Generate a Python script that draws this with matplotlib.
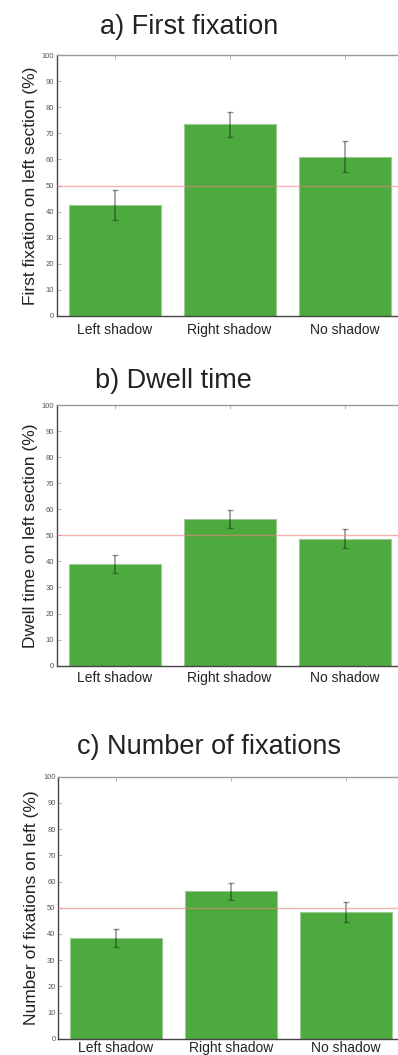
"""
Eye-tracking results: three bar panels (first fixation, dwell time, number of fixations)
"""
import numpy as np
import matplotlib
matplotlib.use("Agg")
import matplotlib.pyplot as plt
from matplotlib.transforms import ScaledTranslation

plt.rcParams["font.family"] = ["Liberation Sans", "DejaVu Sans"]

# ── data ──────────────────────────────────────────────────────────────────────
conditions = ["Left shadow", "Right shadow", "No shadow"]

first_fix = [42.5, 73.5, 61.0]
first_fix_err = [5.8, 4.8, 6.0]

dwell = [39.0, 56.3, 48.7]
dwell_err = [3.5, 3.3, 3.7]

n_fix = [38.5, 56.2, 48.4]
n_fix_err = [3.5, 3.2, 3.7]

chance = 50
yticks = list(range(0, 101, 10))

panels = [
    ("a) First fixation", "First fixation on left section (%)", first_fix, first_fix_err),
    ("b) Dwell time", "Dwell time on left section (%)", dwell, dwell_err),
    ("c) Number of fixations", "Number of fixations on left (%)", n_fix, n_fix_err),
]

W, H = 398, 1055
DPI = 100
fig = plt.figure(figsize=(W / DPI, H / DPI), dpi=DPI)

# left, top, bottom of each axes in px; title anchor (x, y-center) in px
boxes = [(57, 55, 316), (57, 405, 665.7), (58.3, 776.7, 1038.7)]
title_pos = [(100, 27), (95, 381), (77, 747)]
label_shift = [7, 0, 9]   # x tick labels sit slightly right of bar centres in a) and c)
label_pad = [5, 4, 1.5]

BAR_COLOR = "#4DAA3F"

for (title, ylabel, vals, errs), (left, top, bottom), (tx, ty), dx, pad in zip(
        panels, boxes, title_pos, label_shift, label_pad):
    ax = fig.add_axes([left / W, 1 - bottom / H, 345 / W, (bottom - top) / H])
    x = np.arange(len(conditions))

    ax.bar(x, vals, width=0.8, color=BAR_COLOR, edgecolor="#9cc994", linewidth=0.8, zorder=2)
    ax.errorbar(x, vals, yerr=errs, fmt="none", ecolor="#1a1a1a", alpha=0.45,
                elinewidth=1.2, capsize=2.5, capthick=1.0, zorder=3)
    ax.axhline(chance, color="#f08080", alpha=0.6, linewidth=1.0, zorder=4)

    ax.set_xlim(-0.5, 2.5)
    ax.set_ylim(0, 100)
    ax.set_yticks(yticks)
    ax.set_yticklabels([str(t) for t in yticks], fontsize=5.5, color="#555555")
    ax.set_xticks(x)
    ax.set_xticklabels(conditions, fontsize=10, color="#222222")
    for lab in ax.get_xticklabels():
        lab.set_transform(lab.get_transform() + ScaledTranslation(dx / DPI, 0, fig.dpi_scale_trans))

    ax.tick_params(axis="both", direction="in", length=3, width=0.6, color="#aaaaaa",
                   top=True, right=True)
    ax.tick_params(axis="x", pad=pad, length=3)
    ax.tick_params(axis="y", pad=2)

    for side in ["left", "bottom"]:
        ax.spines[side].set_color("#444444")
        ax.spines[side].set_linewidth(1.0)
    for side in ["top", "right"]:
        ax.spines[side].set_color("#999999")
        ax.spines[side].set_linewidth(1.0)

    ax.set_ylabel(ylabel, fontsize=12.5, color="#222222", labelpad=3)

    fig.text(tx / W, 1 - ty / H, title, fontsize=19.5, color="#222222",
             ha="left", va="center")

fig.savefig("out.png", dpi=DPI)
